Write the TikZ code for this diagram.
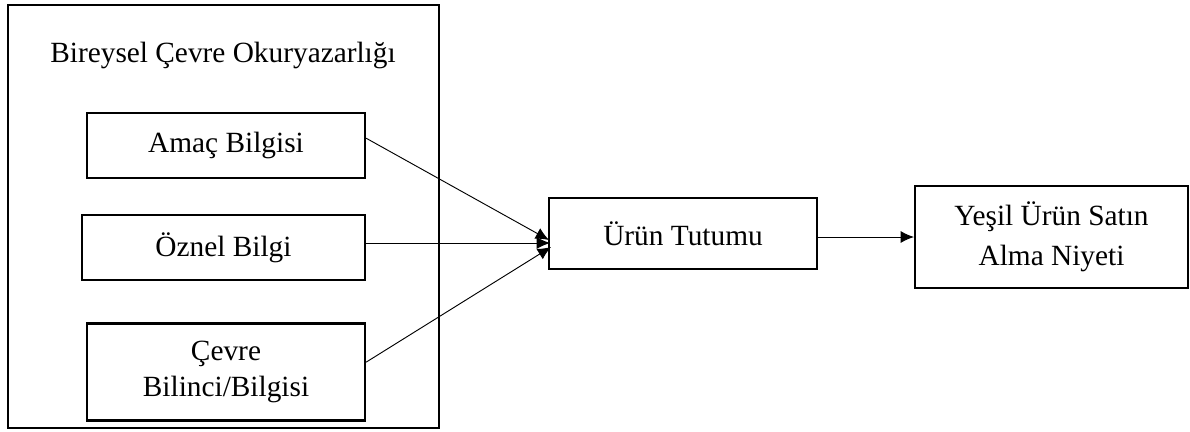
\documentclass[tikz,border=0pt]{standalone}
\usepackage{fontspec}
\setmainfont{Liberation Serif}
\usepackage{tikz}
\usetikzlibrary{arrows.meta}

\begin{document}
\begin{tikzpicture}[x=0.75pt,y=-0.75pt,
  box/.style={draw=black,line width=1.6pt,inner sep=0pt,align=center,
    font=\fontsize{22}{26.25}\selectfont},
  link/.style={line width=0.7pt,-{Latex[length=10pt,width=9pt]}}]
\useasboundingbox (0,0) rectangle (1190,432);

\node (frame) [box,minimum width=323.25pt,minimum height=317.25pt] at (223.5,216.5) {};
\node (title) [font=\fontsize{22}{26}\selectfont] at (223,55) {Bireysel Çevre Okuryazarlığı};

\node (amac) [box,minimum width=208.5pt,minimum height=48.75pt] at (226,145.5) {Amaç Bilgisi};
\node (oznel) [box,minimum width=212.25pt,minimum height=48.75pt] at (223.5,247.5) {Öznel Bilgi};
\node (cevre) [box,minimum width=208.5pt,minimum height=72.75pt,font=\fontsize{22}{27.5}\selectfont] at (226,372) {Çevre\\Bilinci/Bilgisi};

\node (urun) [box,minimum width=201pt,minimum height=53.25pt] at (683,233.5) {Ürün Tutumu};
\node (yesil) [box,minimum width=204.75pt,minimum height=76.5pt,font=\fontsize{22}{30}\selectfont] at (1051.5,237) {Yeşil Ürün Satın\\Alma Niyeti};

\coordinate (ina) at (549,240);
\coordinate (inb) at (550,243);
\coordinate (inc) at (551,247);

\draw[link] (amac.3.5) -- (ina);
\draw[link] (oznel.east |- inb) -- (inb);
\draw[link] (cevre.4.5) -- (inc);
\draw[link] (urun.east |- yesil.west) -- (yesil.west);
\end{tikzpicture}
\end{document}
